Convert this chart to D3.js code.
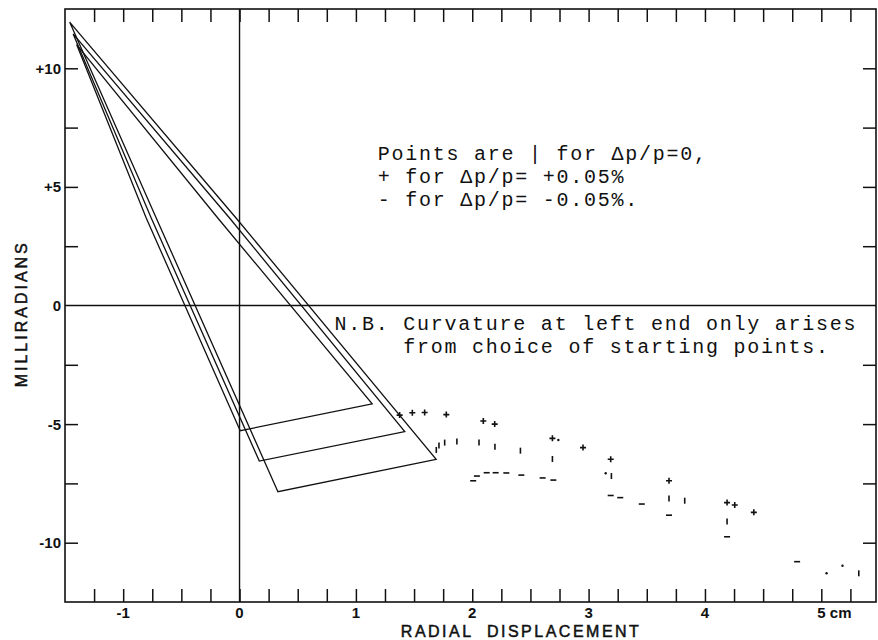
<!DOCTYPE html>
<html>
<head>
<meta charset="utf-8">
<script src="https://cdn.jsdelivr.net/npm/d3@7"></script>
<style>
  body { margin: 0; background: #fff; }
  svg { display: block; }
</style>
</head>
<body>
<div id="chart"></div>
<script>
// trajectory outlines, one closed loop each (radial cm, mrad)
var loopSmall = [[-1.40, 11.0], [-0.802, 3.69], [0.006, -5.28], [1.14, -4.15], [-0.187, 3.69], [-1.40, 11.0]];
var loopMid   = [[-1.43, 11.45], [-0.759, 3.69], [0.17, -6.56], [1.42, -5.32], [-0.086, 3.69], [-1.43, 11.45]];
var loopLarge = [[-1.46, 11.95], [-0.716, 3.69], [0.33, -7.85], [1.69, -6.49], [-0.03, 3.69], [-1.46, 11.95]];

// points for dp/p = +0.05%
var plusPts = [[1.376, -4.62], [1.485, -4.52], [1.591, -4.51], [1.777, -4.60], [2.095, -4.87], [2.193, -5.00],
  [2.689, -5.60], [2.952, -5.99], [3.190, -6.48], [3.691, -7.39], [4.190, -8.31], [4.256, -8.41], [4.420, -8.72]];
// points for dp/p = 0
var zeroPts = [[1.691, -6.09], [1.714, -5.90], [1.763, -5.78], [1.868, -5.73], [2.058, -5.78], [2.195, -5.95],
  [2.414, -6.12], [2.689, -6.47], [3.196, -7.19], [3.691, -8.14], [3.826, -8.23], [4.190, -9.11], [5.322, -11.29]];
// points for dp/p = -0.05%
var minusPts = [[2.008, -7.39], [2.040, -7.19], [2.124, -7.05], [2.201, -7.05], [2.293, -7.06], [2.422, -7.15],
  [2.605, -7.27], [2.697, -7.36], [3.190, -8.01], [3.272, -8.10], [3.457, -8.37], [3.691, -8.84], [4.190, -9.75], [4.792, -10.80]];
// faint points printed only as dots
var dotPts = [[2.740, -5.67], [3.147, -7.07], [5.045, -11.29], [5.182, -10.97]];

var xTickValues = d3.range(-1.25, 5.26, 0.25);
var xLabelValues = [-1, 0, 1, 2, 3, 4, 5];
var xLabels = ["-1", "0", "1", "2", "3", "4", "5 cm"];
var yTickValues = [-10, -7.5, -5, -2.5, 2.5, 5, 7.5, 10];
var yLabelValues = [10, 5, 0, -5, -10];
var yLabels = ["+10", "+5", "0", "-5", "-10"];

var W = 878, H = 640;
var margin = {top: 9, right: 2, bottom: 38, left: 65},
    width = W - margin.left - margin.right,
    height = H - margin.top - margin.bottom;

var ink = "#111";

var svg = d3.select("#chart").append("svg")
  .attr("width", W)
  .attr("height", H)
  .append("g")
  .attr("transform", "translate(" + margin.left + "," + margin.top + ")");

var x = d3.scaleLinear().domain([-1.5, 5.47]).range([0, width]);
var y = d3.scaleLinear().domain([-12.5, 12.5]).range([height, 0]);

// frame
svg.append("rect")
  .attr("width", width).attr("height", height)
  .attr("fill", "none").attr("stroke", ink).attr("stroke-width", 1.6);

// inward ticks on all four sides
function tickAxis(axis, tr) {
  var g = svg.append("g").attr("transform", tr).call(axis);
  g.select(".domain").remove();
  g.selectAll("text").remove();
  g.selectAll("line").attr("stroke", ink).attr("stroke-width", 1.5);
  return g;
}
tickAxis(d3.axisBottom(x).tickValues(xTickValues).tickSize(-13), "translate(0," + height + ")");
tickAxis(d3.axisTop(x).tickValues(xTickValues).tickSize(-13), "translate(0,0)");
tickAxis(d3.axisLeft(y).tickValues(yTickValues).tickSize(-13), "translate(0,0)");
tickAxis(d3.axisRight(y).tickValues(yTickValues).tickSize(-13), "translate(" + width + ",0)");

// zero lines
svg.append("line")
  .attr("x1", x(0)).attr("x2", x(0)).attr("y1", 0).attr("y2", height)
  .attr("stroke", ink).attr("stroke-width", 1.4);
svg.append("line")
  .attr("x1", 0).attr("x2", width).attr("y1", y(0)).attr("y2", y(0))
  .attr("stroke", ink).attr("stroke-width", 1.4);

// tick labels
var labelFont = "'Liberation Sans', Arial, sans-serif";
svg.append("g").selectAll("text")
  .data(xLabelValues).enter().append("text")
  .attr("x", function(d) { return x(d); })
  .attr("y", height + 16)
  .attr("text-anchor", function(d, i) { return xLabels[i].length > 2 ? "start" : "middle"; })
  .attr("dx", function(d, i) { return xLabels[i].length > 2 ? -4 : 0; })
  .style("font-family", labelFont).style("font-size", "15px").style("font-weight", "bold")
  .attr("fill", ink)
  .text(function(d, i) { return xLabels[i]; });

svg.append("g").selectAll("text")
  .data(yLabelValues).enter().append("text")
  .attr("x", -4)
  .attr("y", function(d) { return y(d); })
  .attr("dy", "0.36em")
  .attr("text-anchor", "end")
  .style("font-family", labelFont).style("font-size", "15px").style("font-weight", "bold")
  .attr("fill", ink)
  .text(function(d, i) { return yLabels[i]; });

// axis titles
svg.append("text")
  .attr("x", x(2.42)).attr("y", height + 35)
  .attr("text-anchor", "middle")
  .style("white-space", "pre")
  .style("font-family", labelFont).style("font-size", "16px")
  .style("letter-spacing", "2.5px")
  .attr("fill", ink).attr("stroke", ink).attr("stroke-width", 0.5)
  .text("RADIAL  DISPLACEMENT");

svg.append("text")
  .attr("transform", "translate(" + (-38) + "," + y(-0.35) + ") rotate(-90)")
  .attr("text-anchor", "middle")
  .style("font-family", labelFont).style("font-size", "16px")
  .style("letter-spacing", "3px")
  .attr("fill", ink).attr("stroke", ink).attr("stroke-width", 0.5)
  .text("MILLIRADIANS");

// trajectory loops
var line = d3.line().x(function(d) { return x(d[0]); }).y(function(d) { return y(d[1]); });
svg.append("g").selectAll("path")
  .data([loopSmall, loopMid, loopLarge]).enter().append("path")
  .attr("d", line)
  .attr("fill", "none").attr("stroke", ink).attr("stroke-width", 1.3)
  .attr("stroke-linejoin", "miter");

// point markers
var marks = svg.append("g").attr("stroke", ink).attr("stroke-width", 1.6);
marks.selectAll(".plus").data(plusPts).enter().append("path")
  .attr("class", "plus")
  .attr("d", function(d) {
    var px = x(d[0]), py = y(d[1]);
    return "M" + (px - 3) + "," + py + "H" + (px + 3) + "M" + px + "," + (py - 3) + "V" + (py + 3);
  });
marks.selectAll(".zero").data(zeroPts).enter().append("path")
  .attr("class", "zero")
  .attr("d", function(d) {
    var px = x(d[0]), py = y(d[1]);
    return "M" + px + "," + (py - 3) + "V" + (py + 3);
  });
marks.selectAll(".minus").data(minusPts).enter().append("path")
  .attr("class", "minus")
  .attr("d", function(d) {
    var px = x(d[0]), py = y(d[1]);
    return "M" + (px - 3) + "," + py + "H" + (px + 3);
  });
svg.append("g").selectAll("circle").data(dotPts).enter().append("circle")
  .attr("cx", function(d) { return x(d[0]); })
  .attr("cy", function(d) { return y(d[1]); })
  .attr("r", 1.2).attr("fill", ink);

// notes (typewriter text, tight lines as on the original)
var monoFont = "'Courier New', 'Liberation Mono', monospace";
function note(lines, x0, y0) {
  svg.append("g").selectAll("text")
    .data(lines).enter().append("text")
    .attr("x", x(x0))
    .attr("y", function(d, i) { return y(y0) + i * 23; })
    .style("font-family", monoFont).style("font-size", "20px")
    .style("letter-spacing", "1.75px").style("white-space", "pre")
    .attr("fill", ink)
    .text(function(d) { return d; });
}
note(["Points are | for \u0394p/p=0,", "+ for \u0394p/p= +0.05%", "- for \u0394p/p= -0.05%."], 1.187, 6.13);
note(["N.B. Curvature at left end only arises", "     from choice of starting points."], 0.817, -1.03);
</script>
</body>
</html>
